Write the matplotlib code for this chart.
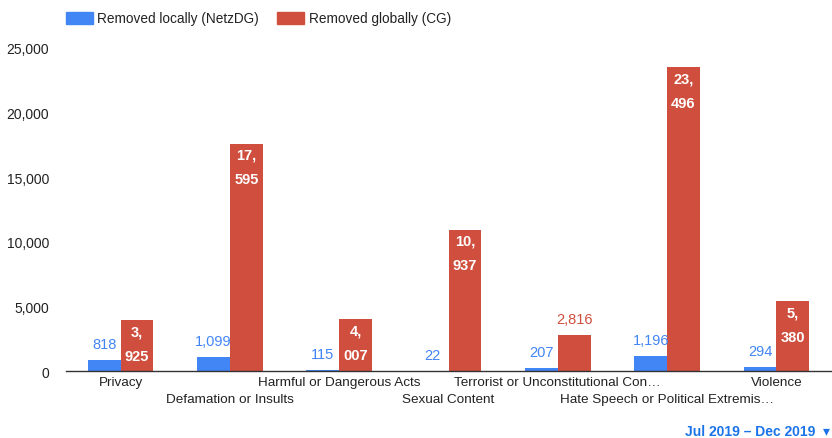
import matplotlib
matplotlib.use("Agg")
import matplotlib.pyplot as plt
import numpy as np

categories = ["Privacy", "Defamation or Insults", "Harmful or Dangerous Acts",
              "Sexual Content", "Terrorist or Unconstitutional Con\u2026",
              "Hate Speech or Political Extremis\u2026", "Violence"]
local_vals = [818, 1099, 115, 22, 207, 1196, 294]
global_vals = [3925, 17595, 4007, 10937, 2816, 23496, 5380]
yticks = [0, 5000, 10000, 15000, 20000, 25000]
series_names = ["Removed locally (NetzDG)", "Removed globally (CG)"]

BLUE = "#4285F4"
RED = "#CF4E3D"
plt.rcParams['font.family'] = ['Liberation Sans', 'DejaVu Sans']

fig = plt.figure(figsize=(8.32, 4.39), dpi=100)
ax = fig.add_axes([66/832, 1-372/439, (831-66)/832, (372-49)/439])

x = np.arange(len(categories))
w = 0.30
ax.bar(x - w/2, local_vals, w, color=BLUE)
ax.bar(x + w/2, global_vals, w, color=RED)

ax.set_xlim(-0.5, len(categories) - 0.5)
ax.set_ylim(0, 25000)
ax.set_yticks(yticks)
ax.set_yticklabels([f"{v:,}" for v in yticks], fontsize=10, color="#222222")
ax.tick_params(axis='y', length=0, pad=12)
ax.set_xticks([])
for s in ["top", "right", "left"]:
    ax.spines[s].set_visible(False)
ax.spines["bottom"].set_color("#333333")
ax.spines["bottom"].set_linewidth(1.0)

# category labels, staggered two rows
for i, c in enumerate(categories):
    yoff = -5 if i % 2 == 0 else -22
    ax.annotate(c, (x[i], 0), xytext=(0, yoff), textcoords="offset pixels",
                ha="center", va="top", fontsize=9.7, color="#222222")

# value labels
for i in range(len(categories)):
    lv = local_vals[i]
    ax.annotate(f"{lv:,}", (x[i] - w/2, lv), xytext=(0, 9), textcoords="offset pixels",
                ha="center", va="bottom", fontsize=10.5, color=BLUE)
    gv = global_vals[i]
    s = f"{gv:,}"
    if gv > 3500:
        a, b = s.split(",")
        ax.annotate(f"{a},\n{b}", (x[i] + w/2, gv), xytext=(0, -4), textcoords="offset pixels",
                    ha="center", va="top", fontsize=10.5, color="white",
                    fontweight="bold", linespacing=1.95)
    else:
        ax.annotate(s, (x[i] + w/2, gv), xytext=(0, 9), textcoords="offset pixels",
                    ha="center", va="bottom", fontsize=10.5, color=RED)

# legend
fig.patches.append(plt.Rectangle((66/832, 1-25/439), 27/832, 12/439, transform=fig.transFigure,
                                 color=BLUE, figure=fig))
fig.text(97/832, 1-18.5/439, series_names[0], fontsize=9.8, va="center", ha="left", color="#222222")
fig.patches.append(plt.Rectangle((277/832, 1-25/439), 27/832, 12/439, transform=fig.transFigure,
                                 color=RED, figure=fig))
fig.text(309/832, 1-18.5/439, series_names[1], fontsize=9.8, va="center", ha="left", color="#222222")

fig.text(815/832, 1-432/439, "Jul 2019 \u2013 Dec 2019", fontsize=10, fontweight="bold",
         color="#1A73E8", ha="right", va="center")
fig.text(826/832, 1-431/439, "\u25BE", fontsize=10, color="#1A73E8", ha="center", va="center",
         family=["DejaVu Sans"])

fig.savefig("out.png", dpi=100)
